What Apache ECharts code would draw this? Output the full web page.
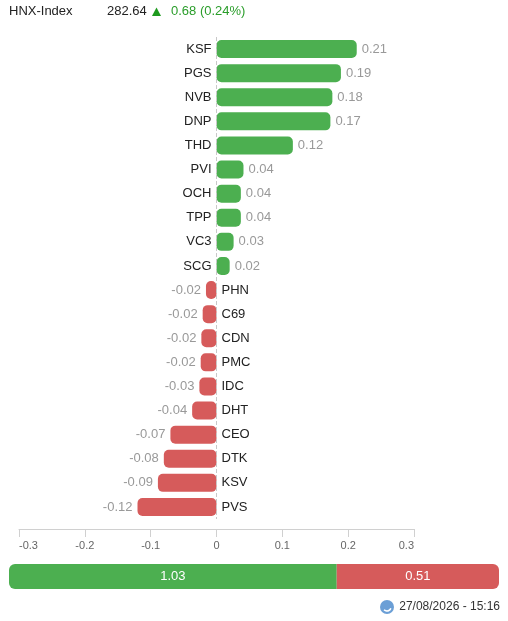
<!DOCTYPE html>
<html>
<head>
	<meta charset="utf-8">
	<title>HNX-Index</title>
	<script src="https://cdn.jsdelivr.net/npm/echarts@6/dist/echarts.min.js"></script>
	<style>
		html, body { margin: 0; padding: 0; background: #fff; }
		#main { width: 508px; height: 621px; }
	</style>
</head>
<body>
<div id="main"></div>
<script type="text/javascript">
// mã cổ phiếu, từ trên xuống
var tickers = ['KSF', 'PGS', 'NVB', 'DNP', 'THD', 'PVI', 'OCH', 'TPP', 'VC3', 'SCG',
	'PHN', 'C69', 'CDN', 'PMC', 'IDC', 'DHT', 'CEO', 'DTK', 'KSV', 'PVS'];
// điểm đóng góp vào chỉ số
var impacts = [0.213, 0.189, 0.176, 0.173, 0.116, 0.041, 0.037, 0.037, 0.026, 0.02,
	-0.016, -0.021, -0.023, -0.024, -0.026, -0.037, -0.07, -0.08, -0.089, -0.12];
var xTicks = [-0.3, -0.2, -0.1, 0, 0.1, 0.2, 0.3];
// tổng tăng / tổng giảm
var breadth = [1.03, 0.51];
var indexName = 'HNX-Index';
var indexValue = '282.64';
var indexChange = '0.68 (0.24%)';
var updatedAt = '27/08/2026 - 15:16';

var GREEN = '#4caf50';
var RED = '#d65b5b';
var FONT = 'Liberation Sans, Arial, sans-serif';

var valueData = [];
var nameData = [];
for (var i = 0; i < tickers.length; i++) {
	var up = impacts[i] >= 0;
	valueData.push({
		value: impacts[i],
		itemStyle: { color: up ? GREEN : RED },
		label: { position: up ? 'right' : 'left' }
	});
	nameData.push({
		value: impacts[i],
		label: { position: up ? 'left' : 'right' }
	});
}

var myChart = echarts.init(document.getElementById('main'), null, { renderer: 'canvas' });

var option = {
	animation: false,
	textStyle: { fontFamily: FONT },
	grid: [
		{ left: 19, right: 94, top: 37, bottom: 102 },
		{ left: 9, right: 9, top: 564, height: 25 }
	],
	xAxis: [{
		gridIndex: 0,
		type: 'value',
		min: xTicks[0],
		max: xTicks[xTicks.length - 1],
		interval: 0.1,
		offset: 10,
		axisLine: { show: true, lineStyle: { color: '#d0d0d0' } },
		axisTick: { show: true, length: 8, lineStyle: { color: '#d0d0d0' } },
		splitLine: { show: false },
		axisLabel: {
			color: '#666', fontSize: 11, margin: 11,
			alignMinLabel: 'left', alignMaxLabel: 'right',
			formatter: function (v) { return String(Math.round(v * 10) / 10); }
		}
	}, {
		gridIndex: 1,
		type: 'value',
		min: 0,
		max: breadth[0] + breadth[1],
		show: false
	}],
	yAxis: [{
		gridIndex: 0,
		type: 'category',
		inverse: true,
		data: tickers,
		show: false
	}, {
		gridIndex: 1,
		type: 'category',
		data: ['breadth'],
		show: false
	}],
	series: [{
		name: 'impact',
		type: 'bar',
		xAxisIndex: 0, yAxisIndex: 0,
		barWidth: 18,
		data: valueData,
		itemStyle: { borderRadius: 5 },
		label: {
			show: true, distance: 5, color: '#999', fontSize: 13,
			formatter: function (p) { return p.value.toFixed(2); }
		},
		markLine: {
			silent: true,
			symbol: 'none',
			label: { show: false },
			lineStyle: { color: '#c8c8c8', type: 'dashed', width: 1 },
			data: [{ xAxis: 0 }]
		}
	}, {
		name: 'ticker',
		type: 'bar',
		xAxisIndex: 0, yAxisIndex: 0,
		barWidth: 18,
		barGap: '-100%',
		data: nameData,
		itemStyle: { color: 'rgba(0,0,0,0)' },
		label: {
			show: true, distance: 5, color: '#222', fontSize: 13,
			formatter: function (p) { return p.name; }
		}
	}, {
		name: 'up',
		type: 'bar',
		stack: 'breadth',
		xAxisIndex: 1, yAxisIndex: 1,
		barWidth: 25,
		data: [breadth[0]],
		itemStyle: { color: GREEN, borderRadius: [6, 0, 0, 6] },
		label: { show: true, position: 'inside', color: '#fff', fontSize: 13,
			formatter: function (p) { return p.value.toFixed(2); } }
	}, {
		name: 'down',
		type: 'bar',
		stack: 'breadth',
		xAxisIndex: 1, yAxisIndex: 1,
		barWidth: 25,
		data: [breadth[1]],
		itemStyle: { color: RED, borderRadius: [0, 6, 6, 0] },
		label: { show: true, position: 'inside', color: '#fff', fontSize: 13,
			formatter: function (p) { return p.value.toFixed(2); } }
	}],
	graphic: [
		{ type: 'text', left: 9, top: 5, style: { text: indexName, fill: '#222', font: '13px ' + FONT } },
		{ type: 'text', left: 107, top: 5, style: { text: indexValue, fill: '#222', font: '13px ' + FONT } },
		{ type: 'polygon', shape: { points: [[152, 16], [161, 16], [156.5, 7.5]] }, style: { fill: '#1e9a1e' } },
		{ type: 'text', left: 171, top: 5, style: { text: indexChange, fill: '#2a9d2a', font: '13px ' + FONT } },
		{ type: 'circle', shape: { cx: 387, cy: 607, r: 7 }, style: { fill: '#6b9fd6' } },
		{ type: 'arc', shape: { cx: 387, cy: 607, r: 4, startAngle: 0.3, endAngle: 2.4 }, style: { stroke: '#fff', lineWidth: 1.5, fill: null } },
		{ type: 'text', right: 8, top: 601, style: { text: updatedAt, fill: '#333', font: '12px ' + FONT } }
	]
};

myChart.setOption(option);
</script>
</body>
</html>
